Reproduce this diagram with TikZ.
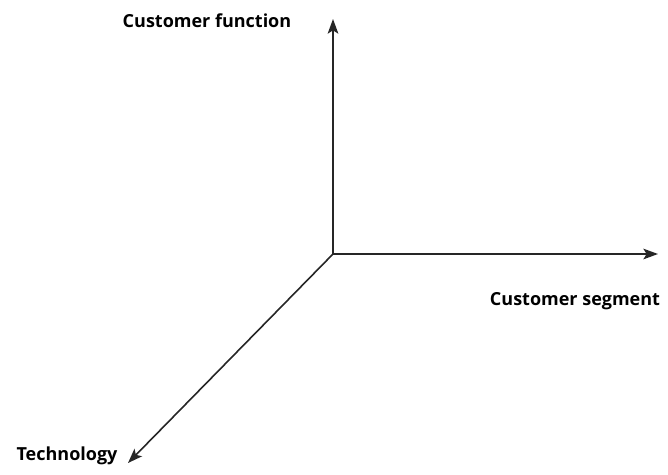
\documentclass[tikz,border=0pt]{standalone}
\usepackage{fontspec}
\setmainfont{Open Sans}
\usetikzlibrary{arrows.meta}
\begin{document}
\begin{tikzpicture}
  [
  x=0.75pt, y=-0.75pt, line width=1.2pt, draw=black!85,
  axislabel/.style={font=\fontsize{13.5}{16}\selectfont\bfseries, inner sep=0pt},
  axis/.style={-{Stealth[length=11pt,width=8pt,inset=2.5pt]}}
  ]
\useasboundingbox (0,0) rectangle (668,475);

\coordinate (o) at (333,254);
\coordinate (up) at (333,19);
\coordinate (right) at (658,254);
\coordinate (down) at (128,463);

\draw[axis] (o) -- (up);
\draw[axis] (o) -- (right);
\draw[axis] (o) -- (down);

\node[axislabel] (lfunc) at (207,21) {Customer function};
\node[axislabel] (lseg) at (575,301) {Customer segment};
\node[axislabel] (ltech) at (67,456) {Technology};

\end{tikzpicture}
\end{document}
